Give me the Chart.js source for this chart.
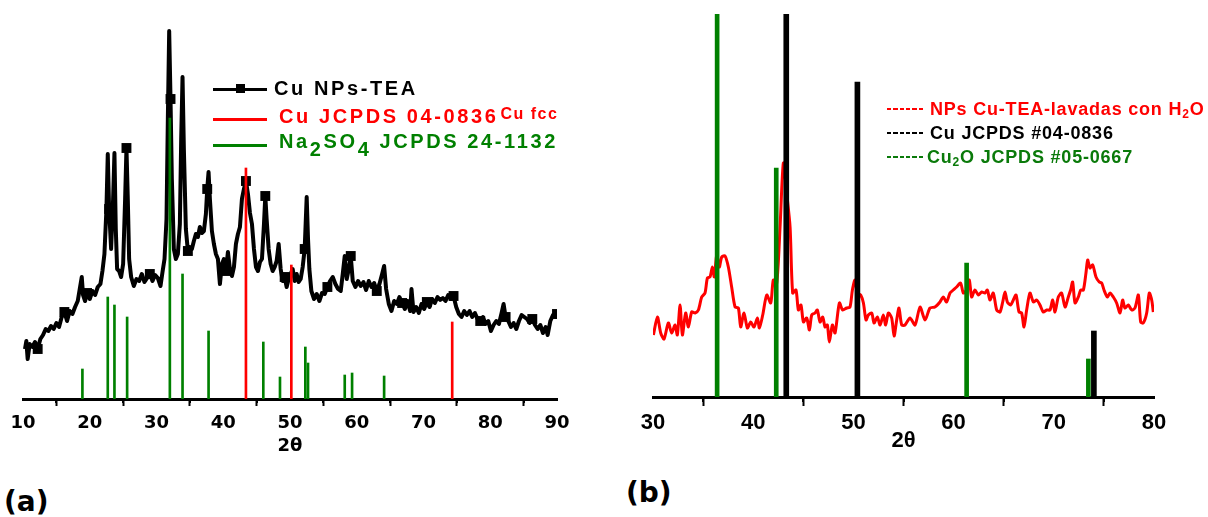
<!DOCTYPE html>
<html>
<head>
<meta charset="utf-8">
<script src="https://cdn.jsdelivr.net/npm/chart.js@4.4.0/dist/chart.umd.min.js"></script>
<style>
  body { margin: 0; background: #fff; width: 1208px; height: 517px; position: relative; overflow: hidden;
         font-family: "Liberation Sans", Arial, sans-serif; font-weight: bold; }
  canvas { position: absolute; top: 0; }
  #chartA { left: 0; }
  #chartB { left: 600px; }
  .t { position: absolute; white-space: nowrap; }
  .lgA { font-size: 20px; line-height: 20px; letter-spacing: 2.6px; }
  .lgB { font-size: 18px; line-height: 18px; letter-spacing: 0.8px; }
  .bar { position: absolute; height: 3px; }
  .dash { position: absolute; width: 37px; height: 2px; }
  .panel { font-family: "DejaVu Sans", sans-serif; font-size: 28px; line-height: 28px; }
</style>
</head>
<body>
<canvas id="chartA" width="600" height="470"></canvas>
<canvas id="chartB" width="608" height="470"></canvas>

<!-- legend, panel (a) -->
<div class="bar" style="left:213px;top:87.5px;width:54px;background:#000"></div>
<div style="position:absolute;left:236px;top:84px;width:9px;height:9px;background:#000"></div>
<div class="t lgA" style="left:274px;top:78px;color:#000">Cu NPs-TEA</div>
<div class="bar" style="left:213px;top:117.5px;width:54px;background:#f00"></div>
<div class="t lgA" style="left:279px;top:106px;color:#f00">Cu JCPDS 04-0836<span style="font-size:16px;letter-spacing:1.5px;position:relative;top:-4px;margin-left:2px">Cu fcc</span></div>
<div class="bar" style="left:213px;top:143.5px;width:54px;background:#008000"></div>
<div class="t lgA" style="left:279px;top:131px;color:#008000">Na<span style="position:relative;top:8px">2</span>SO<span style="position:relative;top:8px">4</span> JCPDS 24-1132</div>

<!-- legend, panel (b) -->
<div class="dash" style="left:887px;top:108px;background:repeating-linear-gradient(to right,#f00 0 4.5px,transparent 4.5px 6.3px)"></div>
<div class="t lgB" style="left:930px;top:100px;color:#f00">NPs Cu-TEA-lavadas con H<span style="font-size:12px;position:relative;top:3px">2</span>O</div>
<div class="dash" style="left:887px;top:132px;background:repeating-linear-gradient(to right,#000 0 4.5px,transparent 4.5px 6.3px)"></div>
<div class="t lgB" style="left:930px;top:124px;color:#000">Cu JCPDS #04-0836</div>
<div class="dash" style="left:887px;top:156px;background:repeating-linear-gradient(to right,#0a7a0a 0 4.5px,transparent 4.5px 6.3px)"></div>
<div class="t lgB" style="left:927px;top:148px;color:#0a7a0a">Cu<span style="font-size:12px;position:relative;top:3px">2</span>O JCPDS #05-0667</div>

<div class="t panel" style="left:4px;top:488px">(a)</div>
<div class="t panel" style="left:626px;top:479px">(b)</div>

<script>
// ---- panel (a): Cu NPs-TEA pattern with reference cards ----
const anglesA = [
  10.3, 10.5, 10.7, 11.0, 11.4, 11.8, 12.2, 12.6, 13.0, 13.4,
  13.8, 14.2, 14.6, 15.0, 15.4, 15.8, 16.2, 16.6, 17.0, 17.4,
  17.8, 18.2, 18.5, 18.8, 19.0, 19.3, 19.6, 20.0, 20.4, 20.8,
  21.2, 21.6, 21.9, 22.2, 22.5, 22.7, 22.9, 23.2, 23.5, 23.7,
  23.9, 24.1, 24.4, 24.7, 25.0, 25.3, 25.5, 25.7, 25.9, 26.2,
  26.6, 27.0, 27.4, 27.8, 28.2, 28.6, 29.0, 29.4, 29.8, 30.2,
  30.6, 30.9, 31.2, 31.5, 31.7, 31.9, 32.1, 32.3, 32.6, 32.9,
  33.2, 33.5, 33.7, 33.9, 34.1, 34.4, 34.7, 35.0, 35.3, 35.6,
  35.9, 36.2, 36.5, 36.8, 37.1, 37.4, 37.6, 37.8, 38.0, 38.3,
  38.6, 38.9, 39.2, 39.5, 39.8, 40.1, 40.4, 40.7, 41.0, 41.3,
  41.6, 41.9, 42.2, 42.5, 42.8, 43.1, 43.4, 43.7, 44.0, 44.3,
  44.6, 44.9, 45.2, 45.5, 45.8, 46.1, 46.3, 46.5, 46.8, 47.1,
  47.4, 47.7, 48.0, 48.3, 48.6, 48.9, 49.2, 49.5, 49.8, 50.1,
  50.4, 50.7, 51.0, 51.3, 51.6, 51.9, 52.2, 52.5, 52.7, 52.9,
  53.2, 53.6, 54.0, 54.4, 54.8, 55.2, 55.6, 56.0, 56.4, 56.8,
  57.2, 57.6, 57.9, 58.2, 58.5, 58.8, 59.1, 59.4, 59.8, 60.2,
  60.6, 61.0, 61.4, 61.8, 62.2, 62.6, 63.0, 63.4, 63.8, 64.1,
  64.4, 64.8, 65.2, 65.6, 66.0, 66.4, 66.8, 67.2, 67.6, 68.0,
  68.2, 68.5, 68.9, 69.3, 69.7, 70.1, 70.5, 70.9, 71.3, 71.7,
  72.1, 72.5, 72.9, 73.3, 73.7, 74.1, 74.5, 74.9, 75.3, 75.7,
  76.1, 76.5, 76.9, 77.3, 77.7, 78.1, 78.5, 78.9, 79.3, 79.7,
  80.1, 80.5, 80.9, 81.3, 81.7, 82.0, 82.3, 82.7, 83.1, 83.5,
  83.9, 84.3, 84.7, 85.1, 85.5, 85.9, 86.3, 86.7, 87.1, 87.5,
  87.9, 88.3, 88.6, 89.0, 89.4, 89.8, 90.0
];
const countsA = [
  50, 58, 40, 55, 52, 57, 50, 60, 64, 70,
  68, 73, 70, 76, 72, 82, 87, 78, 88, 85,
  92, 98, 110, 122, 104, 98, 106, 100, 108, 104,
  112, 115, 128, 145, 190, 245, 190, 150, 200, 246,
  170, 130, 128, 122, 135, 200, 251, 200, 140, 122,
  113, 120, 118, 125, 117, 121, 125, 118, 124, 121,
  113, 127, 140, 180, 280, 368, 300, 220, 150, 140,
  145, 175, 260, 322, 250, 170, 148, 152, 150, 158,
  165, 162, 172, 166, 168, 185, 210, 227, 200, 168,
  155, 145, 140, 115, 135, 140, 128, 147, 130, 123,
  132, 155, 165, 172, 200, 210, 218, 205, 186, 175,
  150, 132, 128, 137, 140, 175, 203, 180, 150, 135,
  128, 132, 138, 155, 130, 118, 122, 112, 120, 125,
  130, 118, 125, 117, 120, 132, 150, 202, 160, 130,
  108, 100, 105, 98, 106, 105, 112, 118, 122, 115,
  110, 108, 125, 143, 120, 130, 143, 118, 112, 118,
  113, 117, 109, 118, 112, 116, 108, 115, 125, 133,
  110, 95, 88, 98, 95, 102, 96, 90, 98, 88,
  110, 87, 92, 86, 95, 90, 97, 92, 100, 96,
  102, 99, 101, 98, 104, 100, 103, 92, 85, 82,
  88, 84, 88, 82, 86, 80, 78, 82, 75, 78,
  68, 74, 78, 75, 86, 95, 82, 78, 72, 76,
  70, 78, 84, 82, 80, 76, 80, 74, 70, 74,
  66, 72, 64, 78, 84, 82, 85
];
const cuFccAngles = [43.4, 50.2, 74.3];
const cuFccHeights = [231, 134, 77];
const na2so4Angles = [18.9, 22.7, 23.7, 25.6, 32.0, 33.9, 37.8, 46.0, 48.5, 52.3, 52.7, 58.2, 59.3, 64.1];
const na2so4Heights = [30, 102, 94, 82, 281, 125, 68, 57, 22, 52, 36, 24, 26, 23];
const majorTicksA = [10, 20, 30, 40, 50, 60, 70, 80, 90];
const minorTicksA = [15, 25, 35, 45, 55, 65, 75, 85];

// ---- panel (b): washed NPs Cu-TEA pattern ----
const anglesB = [
  30.04, 30.44, 30.77, 31.10, 31.53, 31.87, 32.20, 32.43, 32.70, 32.93,
  33.26, 33.53, 33.86, 34.20, 34.53, 34.86, 35.19, 35.43, 35.69, 35.93,
  36.12, 36.36, 36.62, 36.86, 37.19, 37.52, 37.85, 38.19, 38.52, 38.75,
  39.08, 39.42, 39.75, 40.08, 40.42, 40.62, 40.95, 41.35, 41.75, 42.01,
  42.35, 42.68, 43.01, 43.34, 43.68, 43.94, 44.27, 44.51, 44.77, 45.01,
  45.34, 45.61, 45.84, 46.17, 46.40, 46.67, 46.94, 47.17, 47.40, 47.60,
  47.90, 48.17, 48.60, 48.93, 49.33, 49.66, 49.90, 50.16, 50.40, 50.73,
  51.00, 51.26, 51.49, 51.83, 52.06, 52.39, 52.66, 52.99, 53.22, 53.49,
  53.82, 54.06, 54.32, 54.55, 54.82, 55.15, 55.65, 56.15, 56.65, 57.15,
  57.64, 58.14, 58.64, 58.97, 59.30, 59.64, 59.97, 60.30, 60.70, 60.97,
  61.30, 61.57, 61.80, 62.13, 62.47, 62.80, 63.13, 63.37, 63.63, 63.96,
  64.30, 64.63, 64.90, 65.13, 65.36, 65.69, 65.96, 66.23, 66.53, 66.79,
  67.03, 67.29, 67.62, 67.96, 68.29, 68.62, 68.95, 69.29, 69.62, 69.89,
  70.12, 70.45, 70.78, 71.12, 71.45, 71.68, 71.88, 72.12, 72.45, 72.68,
  72.95, 73.21, 73.38, 73.61, 73.88, 74.21, 74.54, 74.78, 75.01, 75.34,
  75.61, 75.94, 76.27, 76.61, 76.87, 77.10, 77.44, 77.77, 78.10, 78.44,
  78.67, 78.93, 79.27, 79.53, 79.77, 79.93
];
const countsB = [
  62, 80, 64, 58, 74, 64, 72, 62, 92, 62,
  84, 70, 85, 84, 87, 100, 104, 119, 120, 130,
  120, 142, 130, 140, 141, 130, 110, 90, 89, 70,
  84, 69, 75, 70, 79, 69, 82, 102, 94, 117,
  114, 170, 234, 204, 170, 104, 107, 87, 92, 75,
  79, 67, 82, 84, 87, 75, 80, 70, 72, 55,
  72, 64, 94, 87, 89, 90, 107, 117, 104, 102,
  94, 77, 82, 84, 74, 80, 72, 82, 72, 84,
  79, 61, 77, 89, 72, 72, 79, 72, 90, 77,
  89, 90, 95, 100, 95, 104, 107, 110, 114, 104,
  107, 117, 100, 107, 102, 105, 104, 107, 97, 104,
  87, 85, 95, 105, 95, 92, 97, 102, 85, 84,
  70, 87, 104, 95, 97, 92, 85, 87, 87, 97,
  85, 100, 104, 90, 100, 107, 115, 94, 100, 107,
  107, 124, 137, 129, 132, 120, 115, 114, 107, 100,
  104, 100, 94, 84, 97, 89, 92, 87, 89, 102,
  75, 74, 84, 104, 97, 85
];
const cuAnglesB = [43.3, 50.4, 74.0];
const cuHeightsB = [420, 315, 66];
const cu2oAngles = [36.4, 42.3, 61.3, 73.45];
const cu2oHeights = [420, 229, 134, 38];
const majorTicksB = [30, 40, 50, 60, 70, 80];
const minorTicksB = [35, 45, 55, 65, 75];

// short downward ticks between the labelled ones
const minorTicks = {
  id: 'minorTicks',
  afterDraw(chart, args, opts) {
    const scale = chart.scales.x;
    const ctx = chart.ctx;
    const y0 = chart.chartArea.bottom;
    ctx.save();
    ctx.strokeStyle = '#000';
    ctx.lineWidth = opts.width;
    opts.values.forEach((v) => {
      const px = Math.round(scale.getPixelForValue(v));
      ctx.beginPath();
      ctx.moveTo(px, y0);
      ctx.lineTo(px, y0 + opts.length);
      ctx.stroke();
    });
    ctx.restore();
  },
};

function points(xs, ys) {
  return xs.map((x, i) => ({ x: x, y: ys[i] }));
}

function sticks(xs, ys, color, width) {
  return {
    type: 'bar',
    data: points(xs, ys),
    backgroundColor: color,
    barThickness: width,
    grouped: false,
    order: 1,
  };
}

// ticks.padding counts twice in the axis height, title sits on the bottom edge
function xAxis(min, max, major, font, tickLen, pad, titlePad) {
  return {
    type: 'linear',
    min: min,
    max: max,
    offset: false,
    afterBuildTicks: (s) => { s.ticks = major.map((v) => ({ value: v })); },
    grid: { drawOnChartArea: false, drawTicks: true, tickLength: tickLen, tickWidth: 2, tickColor: '#000' },
    border: { display: true, color: '#000', width: 3 },
    ticks: { color: '#000', padding: pad, maxRotation: 0, autoSkip: false, font: font },
    title: { display: true, text: '2θ', color: '#000', font: font, padding: titlePad },
  };
}

const chartA = new Chart(document.getElementById('chartA'), {
  type: 'line',
  data: {
    datasets: [
      sticks(cuFccAngles, cuFccHeights, '#ff0000', 2),
      sticks(na2so4Angles, na2so4Heights, '#008000', 2),
      {
        type: 'line',
        data: points(anglesA, countsA),
        borderColor: '#000',
        borderWidth: 4,
        borderJoinStyle: 'round',
        pointStyle: 'rect',
        pointRadius: (c) => (c.dataIndex % 10 === 6 ? 7 : 0),
        pointBackgroundColor: '#000',
        pointBorderWidth: 0,
        tension: 0,
        order: 2,
      },
    ],
  },
  options: {
    responsive: false,
    animation: false,
    devicePixelRatio: 1,
    events: [],
    layout: { padding: { left: 23, right: 43, top: 13, bottom: 11 } },
    plugins: {
      legend: { display: false },
      tooltip: { enabled: false },
      minorTicks: { values: minorTicksA, length: 4, width: 2 },
    },
    scales: {
      x: xAxis(10, 90, majorTicksA, { family: 'DejaVu Sans', weight: 'bold', size: 18, lineHeight: 1 }, 7, 8, { top: -3, bottom: 4 }),
      y: { display: false, min: 0, max: 386 },
    },
  },
  plugins: [minorTicks],
});

const chartB = new Chart(document.getElementById('chartB'), {
  type: 'line',
  data: {
    datasets: [
      sticks(cuAnglesB, cuHeightsB, '#000', 5),
      sticks(cu2oAngles, cu2oHeights, '#008000', 4),
      {
        type: 'line',
        data: points(anglesB, countsB),
        borderColor: '#ff0000',
        borderWidth: 3,
        borderJoinStyle: 'round',
        pointRadius: 0,
        tension: 0.25,
        order: 2,
      },
    ],
  },
  options: {
    responsive: false,
    animation: false,
    devicePixelRatio: 1,
    events: [],
    layout: { padding: { left: 53, right: 54, top: 14, bottom: 14 } },
    plugins: {
      legend: { display: false },
      tooltip: { enabled: false },
      minorTicks: { values: minorTicksB, length: 5, width: 2 },
    },
    scales: {
      x: xAxis(30, 80, majorTicksB, { family: 'Liberation Sans', weight: 'bold', size: 22, lineHeight: 1 }, 9, 6, { top: -10, bottom: 4 }),
      y: { display: false, min: 0, max: 383 },
    },
  },
  plugins: [minorTicks],
});
</script>
</body>
</html>
